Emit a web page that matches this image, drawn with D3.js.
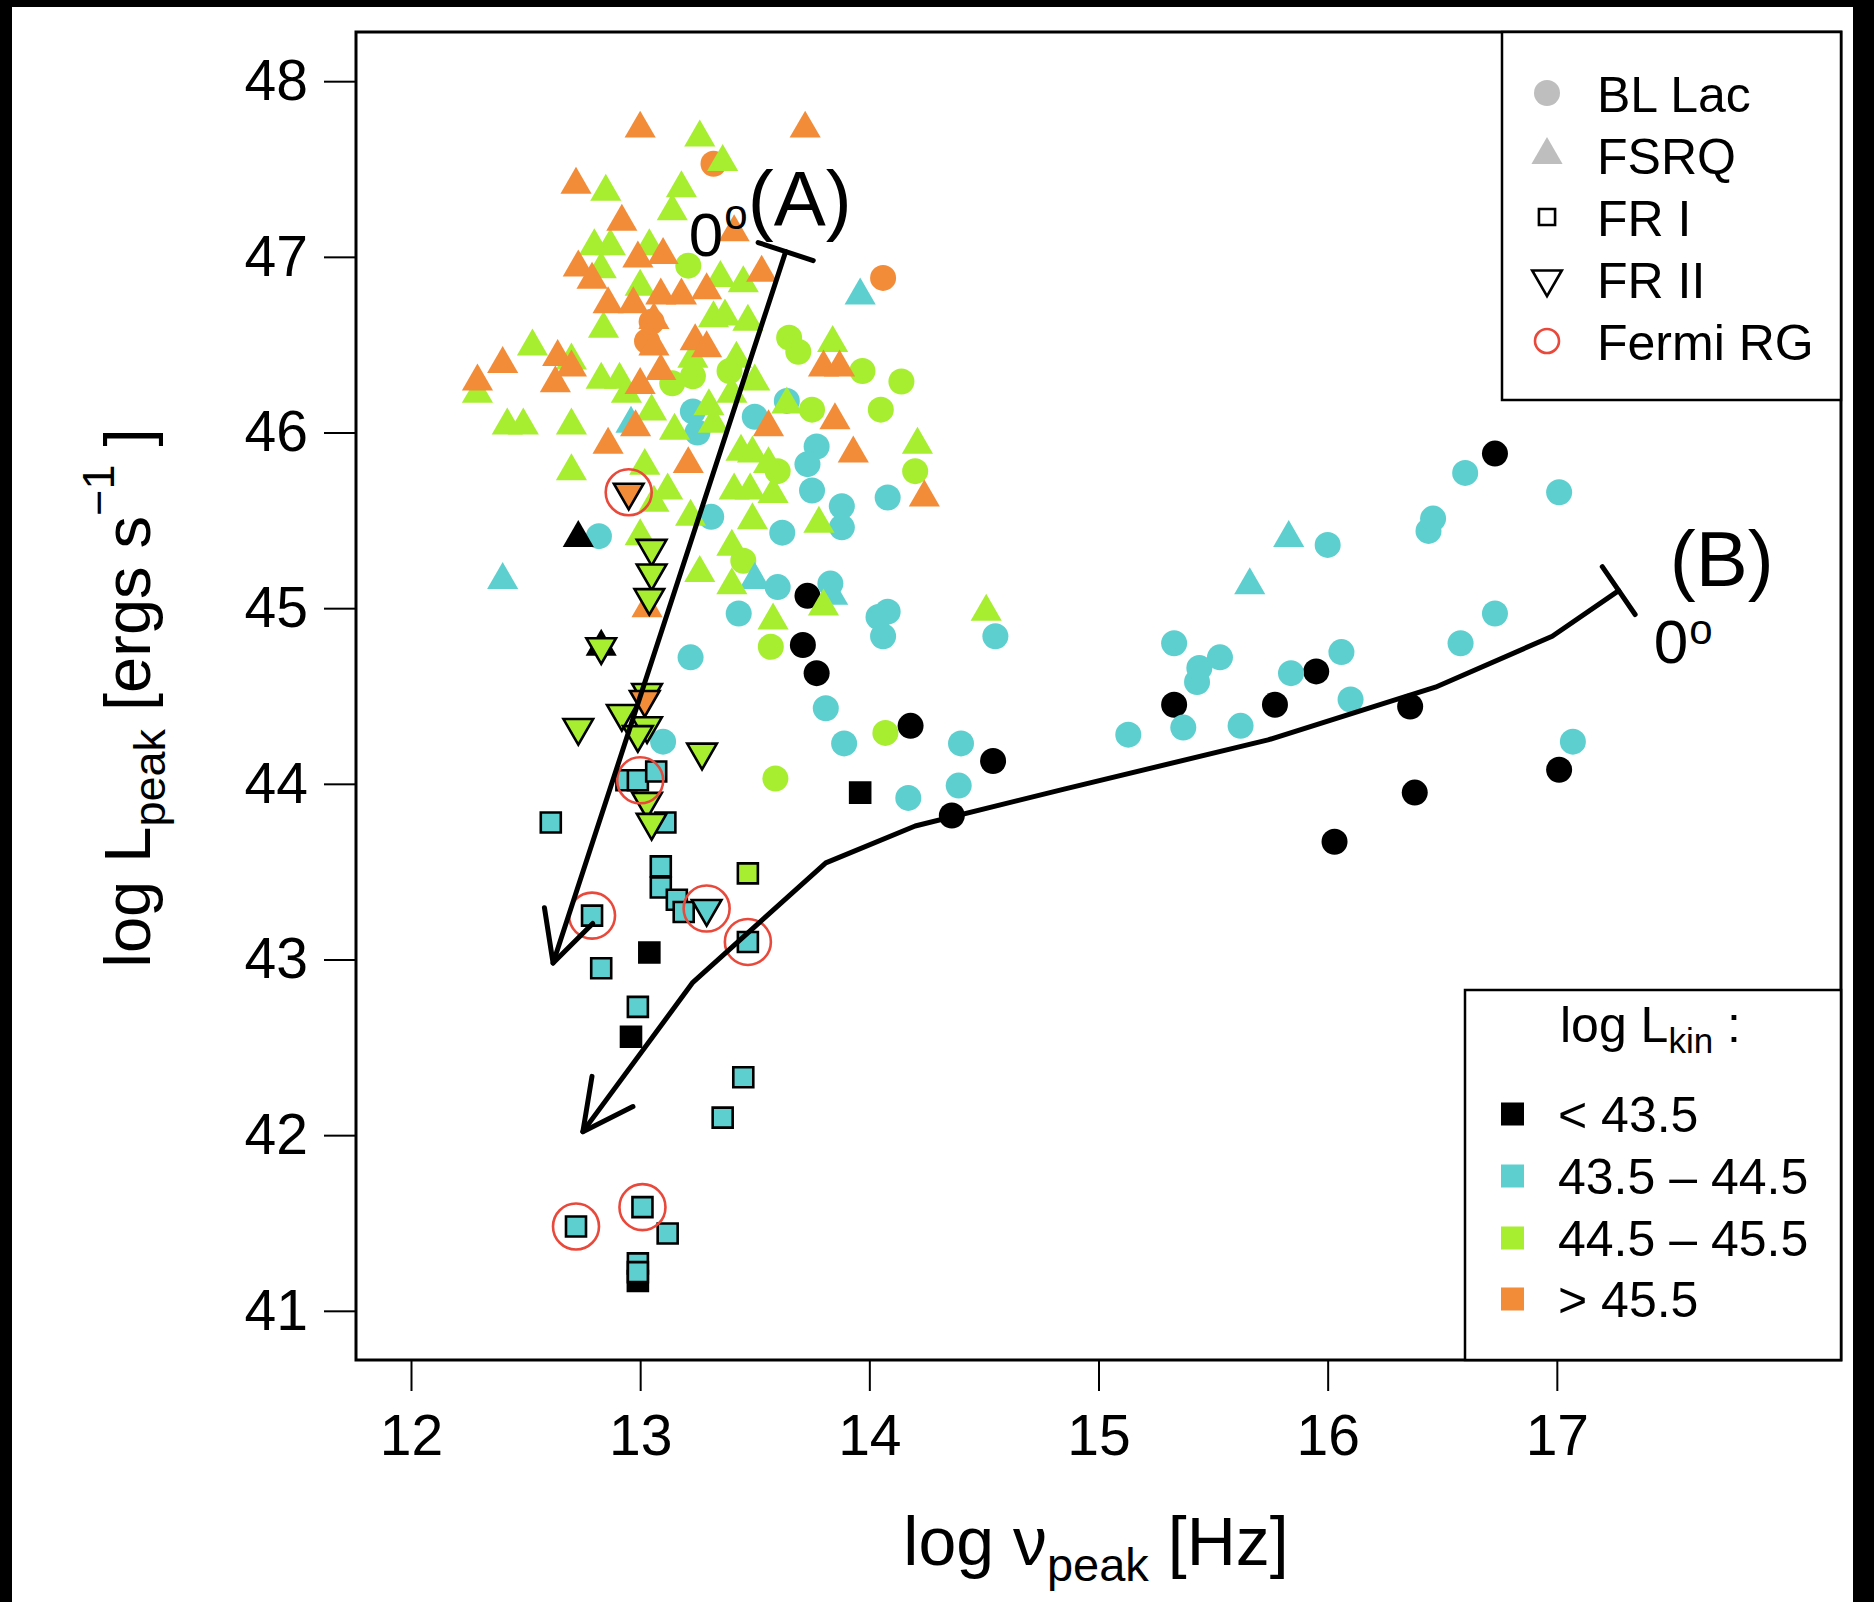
<!DOCTYPE html>
<html>
<head>
<meta charset="utf-8">
<script src="https://cdn.jsdelivr.net/npm/d3@7"></script>
<style>
  html, body { margin: 0; padding: 0; background: #000; }
  svg { display: block; }
</style>
</head>
<body>
<svg id="chart" width="1874" height="1602"></svg>
<script>
// ---- data -------------------------------------------------------------
// jet kinetic power classes (log L_kin): 0 "< 43.5", 1 "43.5 – 44.5", 2 "44.5 – 45.5", 3 "> 45.5"
const kinColors = ["#000000", "#5DCFCF", "#A6EE2F", "#F28C38"];
const kinLabels = ["< 43.5", "43.5 – 44.5", "44.5 – 45.5", "> 45.5"];
const xTicks = [12, 13, 14, 15, 16, 17];
const yTicks = [41, 42, 43, 44, 45, 46, 47, 48];
const typeLabels = ["BL Lac", "FSRQ", "FR I", "FR II", "Fermi RG"];

// each entry: [log nu_peak (Hz), log L_peak (erg/s), kinetic class]
const blLac = [
  [13.73,45.07,0],[13.71,44.79,0],[13.77,44.63,0],[14.18,44.33,0],[14.54,44.13,0],[14.36,43.82,0],
  [15.33,44.45,0],[15.77,44.45,0],[15.95,44.64,0],[16.36,44.44,0],[16.38,43.95,0],[16.03,43.67,0],
  [17.01,44.08,0],[16.73,45.88,0],
  [15.13,44.28,1],[15.33,44.80,1],[15.37,44.32,1],[15.43,44.58,1],[15.44,44.66,1],[15.53,44.72,1],
  [15.62,44.33,1],[15.84,44.63,1],[16.06,44.75,1],[16.10,44.48,1],[16.00,45.36,1],[16.44,45.44,1],
  [16.46,45.51,1],[16.60,45.77,1],[17.01,45.66,1],[16.58,44.80,1],[16.73,44.97,1],[17.07,44.24,1],
  [13.83,45.14,1],[14.04,44.95,1],[14.08,44.98,1],[14.06,44.84,1],[13.81,44.43,1],[13.89,44.23,1],
  [14.17,43.92,1],[14.39,43.99,1],[14.40,44.23,1],[14.55,44.84,1],[14.08,45.63,1],[13.60,45.12,1],
  [13.43,44.97,1],[13.62,45.43,1],[13.31,45.52,1],[13.77,45.92,1],[13.73,45.82,1],[13.75,45.67,1],
  [13.88,45.58,1],[13.88,45.46,1],[13.64,46.18,1],[13.50,46.09,1],[13.23,46.12,1],[13.25,46.00,1],
  [12.82,45.41,1],[13.22,44.72,1],[13.10,44.24,1],
  [13.65,46.54,2],[13.69,46.46,2],[13.97,46.35,2],[14.14,46.29,2],[13.39,46.35,2],[14.05,46.13,2],
  [13.75,46.13,2],[14.20,45.78,2],[13.60,45.78,2],[13.45,45.27,2],[13.57,44.78,2],[14.07,44.29,2],
  [13.59,44.03,2],[13.23,46.32,2],[13.14,46.28,2],[13.21,46.95,2],
  [14.06,46.88,3],[13.32,47.53,3],[13.03,46.52,3],[13.05,46.63,3]
];

const fsrq = [
  [13.96,46.78,1],[12.40,45.16,1],[12.96,46.05,1],[13.50,45.16,1],[13.84,45.07,1],[15.83,45.40,1],[15.66,45.13,1],
  [13.26,47.68,2],[13.36,47.54,2],[12.85,47.37,2],[13.18,47.39,2],[13.14,47.26,2],[12.80,47.06,2],
  [12.87,47.06,2],[13.04,47.06,2],[12.83,46.93,2],[13.00,46.83,2],[13.32,46.65,2],[12.84,46.59,2],
  [12.53,46.49,2],[12.70,46.41,2],[12.83,46.30,2],[12.91,46.30,2],[12.29,46.22,2],[12.42,46.04,2],
  [12.49,46.04,2],[12.70,46.04,2],[12.70,45.78,2],[13.02,45.81,2],[13.12,45.67,2],[13.06,45.60,2],
  [13.22,45.52,2],[13.00,45.41,2],[13.26,45.20,2],[13.32,46.05,2],[13.44,45.89,2],[13.49,45.88,2],
  [13.56,45.82,2],[13.41,45.67,2],[13.48,45.67,2],[13.58,45.65,2],[13.49,45.50,2],[13.78,45.48,2],
  [13.40,45.35,2],[13.40,45.13,2],[13.80,45.01,2],[13.58,44.93,2],[14.21,45.93,2],[13.84,46.51,2],
  [13.64,46.16,2],[14.51,44.98,2],[13.35,46.88,2],[13.45,46.85,2],[13.37,46.66,2],[13.47,46.63,2],
  [13.42,46.42,2],[13.50,46.29,2],[13.40,46.22,2],[13.30,46.15,2],[12.94,46.22,2],[13.05,46.12,2],
  [13.15,46.01,2],[13.23,46.42,2],
  [13.00,47.73,3],[13.72,47.73,3],[12.72,47.41,3],[12.92,47.20,3],[12.73,46.94,3],[12.79,46.87,3],
  [12.99,46.99,3],[13.10,47.01,3],[12.86,46.73,3],[12.97,46.73,3],[13.09,46.78,3],[13.18,46.78,3],
  [13.06,46.64,3],[13.06,46.49,3],[13.24,46.52,3],[13.29,46.48,3],[13.09,46.35,3],[12.64,46.43,3],
  [12.70,46.37,3],[12.40,46.39,3],[12.29,46.29,3],[12.63,46.28,3],[13.00,46.27,3],[13.53,46.91,3],
  [13.41,47.14,3],[13.29,46.81,3],[13.80,46.37,3],[13.87,46.37,3],[13.85,46.07,3],[13.56,46.03,3],
  [13.93,45.88,3],[14.24,45.63,3],[12.86,45.93,3],[12.98,46.03,3],[13.21,45.82,3],[13.03,45.00,3],
  [12.73,45.40,0],[12.83,44.78,0]
];

const fr1 = [
  [12.99,41.17,0],[13.04,43.04,0],[12.96,42.56,0],[13.96,43.95,0],[13.47,43.49,2],
  [12.94,44.02,1],[12.99,44.02,1],[13.07,44.07,1],[12.61,43.78,1],[13.11,43.78,1],[13.09,43.53,1],
  [13.09,43.41,1],[13.16,43.34,1],[13.19,43.27,1],[12.79,43.25,1],[13.47,43.10,1],[12.83,42.95,1],
  [12.99,42.73,1],[13.45,42.33,1],[13.36,42.10,1],[12.72,41.48,1],[13.01,41.59,1],[13.12,41.44,1],
  [12.99,41.27,1],[12.99,41.22,1]
];

const fr2 = [
  [12.95,45.66,3],[13.05,45.34,2],[13.05,45.20,2],[13.04,45.06,2],[12.83,44.78,2],[12.73,44.32,2],
  [13.03,44.52,2],[13.02,44.48,3],[12.92,44.40,2],[13.03,44.33,2],[12.99,44.28,2],[13.27,44.18,2],
  [13.03,43.90,2],[13.05,43.78,2],[13.29,43.29,1]
];

// gamma-ray detected radio galaxies: [log nu_peak, log L_peak]
const fermiRG = [[12.95,45.66],[13.00,44.02],[12.79,43.25],[13.29,43.29],[13.47,43.10],[12.72,41.48],[13.01,41.59]];

// debeaming tracks, starting at 0 deg viewing angle
const trackA = [[13.635,47.03],[12.62,42.98]];
const trackB = [[17.27,45.10],[16.98,44.84],[16.47,44.55],[15.74,44.25],[14.85,43.97],[14.20,43.76],
                [13.81,43.55],[13.23,42.87],[12.75,42.02]];

// ---- layout -------------------------------------------------------------
const W = 1874, H = 1602;
const FONT = "'Liberation Sans', Arial, Helvetica, sans-serif";
const plot = { left: 356, right: 1841, top: 32, bottom: 1360 };

const svg = d3.select("#chart");
const x = d3.scaleLinear().domain([11.76, 18.24]).range([plot.left, plot.right]);
const y = d3.scaleLinear().domain([40.72, 48.28]).range([plot.bottom, plot.top]);

// page background with the dark outer frame
svg.append("rect").attr("width", W).attr("height", H).attr("fill", "#000");
svg.append("rect").attr("x", 12).attr("y", 7).attr("width", 1841).attr("height", H - 7).attr("fill", "#fff");

const tri = d3.symbol().type(d3.symbolTriangle);
const sq = d3.symbol().type(d3.symbolSquare);

// ---- points -------------------------------------------------------------
const gPts = svg.append("g");

gPts.append("g").selectAll("circle").data(blLac).join("circle")
  .attr("cx", d => x(d[0])).attr("cy", d => y(d[1])).attr("r", 13)
  .attr("fill", d => kinColors[d[2]]);

gPts.append("g").selectAll("path").data(fsrq).join("path")
  .attr("d", tri.size(420)())
  .attr("transform", d => `translate(${x(d[0])},${y(d[1])})`)
  .attr("fill", d => kinColors[d[2]]);

gPts.append("g").selectAll("path").data(fr1).join("path")
  .attr("d", sq.size(400)())
  .attr("transform", d => `translate(${x(d[0])},${y(d[1])})`)
  .attr("fill", d => kinColors[d[2]])
  .attr("stroke", "#000").attr("stroke-width", 2.6);

gPts.append("g").selectAll("path").data(fr2).join("path")
  .attr("d", tri.size(380)())
  .attr("transform", d => `translate(${x(d[0])},${y(d[1])}) rotate(180)`)
  .attr("fill", d => kinColors[d[2]])
  .attr("stroke", "#000").attr("stroke-width", 2.6).attr("stroke-linejoin", "miter");

gPts.append("g").selectAll("circle").data(fermiRG).join("circle")
  .attr("cx", d => x(d[0])).attr("cy", d => y(d[1])).attr("r", 23)
  .attr("fill", "none").attr("stroke", "#E8493B").attr("stroke-width", 2.6);

// ---- tracks -------------------------------------------------------------
const line = d3.line().x(d => x(d[0])).y(d => y(d[1]));
const gTr = svg.append("g").attr("fill", "none").attr("stroke", "#000")
  .attr("stroke-width", 5).attr("stroke-linecap", "round").attr("stroke-linejoin", "round");

function drawTrack(pts) {
  gTr.append("path").attr("d", line(pts));
  // perpendicular cap at the 0 deg end
  const p0 = [x(pts[0][0]), y(pts[0][1])], p1 = [x(pts[1][0]), y(pts[1][1])];
  let dx = p1[0] - p0[0], dy = p1[1] - p0[1];
  const len = Math.hypot(dx, dy); dx /= len; dy /= len;
  const c = 29;
  gTr.append("path").attr("d", `M${p0[0] - dy * c},${p0[1] + dx * c}L${p0[0] + dy * c},${p0[1] - dx * c}`);
  // arrow head at the far end
  const n = pts.length;
  const t = [x(pts[n - 1][0]), y(pts[n - 1][1])], s = [x(pts[n - 2][0]), y(pts[n - 2][1])];
  const ang = Math.atan2(s[1] - t[1], s[0] - t[0]);
  const a = 27 * Math.PI / 180, L = 56;
  const b1 = [t[0] + L * Math.cos(ang + a), t[1] + L * Math.sin(ang + a)];
  const b2 = [t[0] + L * Math.cos(ang - a), t[1] + L * Math.sin(ang - a)];
  gTr.append("path").attr("d", `M${b1[0]},${b1[1]}L${t[0]},${t[1]}L${b2[0]},${b2[1]}`);
  return p0;
}
const startA = drawTrack(trackA);
const startB = drawTrack(trackB);

// track labels: 0 deg and (A)/(B)
function degLabel(px, py, raise) {
  const t = svg.append("text").attr("x", px).attr("y", py)
    .attr("font-family", FONT).attr("font-size", 62).attr("fill", "#000");
  t.append("tspan").text("0");
  t.append("tspan").attr("font-size", 42).attr("dy", -raise).attr("dx", 1).text("o");
}
degLabel(startA[0] - 97, startA[1] + 4, 27);
svg.append("text").attr("x", startA[0] - 38).attr("y", startA[1] - 26)
  .attr("font-family", FONT).attr("font-size", 78).attr("fill", "#000").text("(A)");
degLabel(startB[0] + 35, startB[1] + 72, 19);
svg.append("text").attr("x", startB[0] + 51).attr("y", startB[1] - 5)
  .attr("font-family", FONT).attr("font-size", 78).attr("fill", "#000").text("(B)");

// ---- axes ---------------------------------------------------------------
const yAxis = d3.axisLeft(y).tickValues(yTicks).tickSize(32).tickPadding(16).tickFormat(d3.format("d"));
svg.append("g").attr("transform", `translate(${plot.left},0)`).call(yAxis)
  .call(g => g.select(".domain").remove())
  .call(g => g.selectAll(".tick line").attr("stroke", "#000").attr("stroke-width", 2))
  .call(g => g.selectAll(".tick text").attr("font-family", FONT).attr("font-size", 57).attr("fill", "#000"));

const xAxis = d3.axisBottom(x).tickValues(xTicks).tickSize(31).tickPadding(24).tickFormat(d3.format("d"));
svg.append("g").attr("transform", `translate(0,${plot.bottom})`).call(xAxis)
  .call(g => g.select(".domain").remove())
  .call(g => g.selectAll(".tick line").attr("stroke", "#000").attr("stroke-width", 2))
  .call(g => g.selectAll(".tick text").attr("font-family", FONT).attr("font-size", 57).attr("fill", "#000"));

// plot frame
svg.append("rect").attr("x", plot.left).attr("y", plot.top)
  .attr("width", plot.right - plot.left).attr("height", plot.bottom - plot.top)
  .attr("fill", "none").attr("stroke", "#000").attr("stroke-width", 3);

// axis titles
const xt = svg.append("text").attr("x", 1096).attr("y", 1565).attr("text-anchor", "middle")
  .attr("font-family", FONT).attr("font-size", 68).attr("fill", "#000");
xt.append("tspan").text("log ν");
xt.append("tspan").attr("font-size", 47).attr("dy", 16).text("peak");
xt.append("tspan").attr("dy", -16).text(" [Hz]");

const yt = svg.append("text").attr("transform", "translate(150,698) rotate(-90)").attr("text-anchor", "middle")
  .attr("font-family", FONT).attr("font-size", 65).attr("fill", "#000");
yt.append("tspan").text("log L");
yt.append("tspan").attr("font-size", 45).attr("dy", 15).text("peak");
yt.append("tspan").attr("dy", -15).text(" [ergs s");
yt.append("tspan").attr("font-size", 45).attr("dy", -36).text("−1");
yt.append("tspan").attr("dy", 36).text(" ]");

// ---- legend: source types -----------------------------------------------
const lg1 = svg.append("g");
lg1.append("rect").attr("x", 1502).attr("y", plot.top).attr("width", plot.right - 1502).attr("height", 400 - plot.top)
  .attr("fill", "#fff").attr("stroke", "#000").attr("stroke-width", 2.5);
const lg1Y = [93, 155, 217, 279, 341];
const lsx = 1547;
lg1.append("circle").attr("cx", lsx).attr("cy", lg1Y[0]).attr("r", 13).attr("fill", "#BEBEBE");
lg1.append("path").attr("d", tri.size(420)()).attr("transform", `translate(${lsx},${lg1Y[1]})`).attr("fill", "#BEBEBE");
lg1.append("path").attr("d", sq.size(260)()).attr("transform", `translate(${lsx},${lg1Y[2]})`)
  .attr("fill", "none").attr("stroke", "#000").attr("stroke-width", 2.6);
lg1.append("path").attr("d", tri.size(380)()).attr("transform", `translate(${lsx},${lg1Y[3]}) rotate(180)`)
  .attr("fill", "none").attr("stroke", "#000").attr("stroke-width", 2.6);
lg1.append("circle").attr("cx", lsx).attr("cy", lg1Y[4]).attr("r", 12)
  .attr("fill", "none").attr("stroke", "#E8493B").attr("stroke-width", 2.6);
lg1.selectAll("text.lab").data(typeLabels).join("text").attr("class", "lab")
  .attr("x", 1597).attr("y", (d, i) => lg1Y[i] + 19)
  .attr("font-family", FONT).attr("font-size", 50).attr("fill", "#000").text(d => d);

// ---- legend: kinetic power classes --------------------------------------
const lg2 = svg.append("g");
lg2.append("rect").attr("x", 1465).attr("y", 990).attr("width", plot.right - 1465).attr("height", plot.bottom - 990)
  .attr("fill", "#fff").attr("stroke", "#000").attr("stroke-width", 2.5);
const lt = lg2.append("text").attr("x", 1560).attr("y", 1042)
  .attr("font-family", FONT).attr("font-size", 50).attr("fill", "#000");
lt.append("tspan").text("log L");
lt.append("tspan").attr("font-size", 35).attr("dy", 11).text("kin");
lt.append("tspan").attr("dy", -11).text(" :");
const lg2Y = [1114, 1176, 1238, 1299];
lg2.selectAll("rect.key").data(kinColors).join("rect").attr("class", "key")
  .attr("x", 1501).attr("y", (d, i) => lg2Y[i] - 11.5).attr("width", 23).attr("height", 23)
  .attr("fill", d => d);
lg2.selectAll("text.lab").data(kinLabels).join("text").attr("class", "lab")
  .attr("x", 1558).attr("y", (d, i) => lg2Y[i] + 18)
  .attr("font-family", FONT).attr("font-size", 50).attr("fill", "#000").text(d => d);
</script>
</body>
</html>
